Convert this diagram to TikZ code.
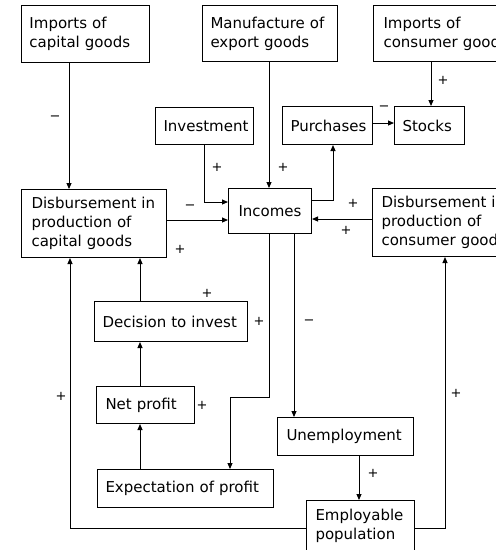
\documentclass[tikz,border=0pt]{standalone}
\usepackage{fontspec}
\setmainfont{DejaVu Sans}
\usetikzlibrary{arrows.meta}
\begin{document}
\begin{tikzpicture}[x=1pt,y=-1pt,
  box/.style={draw, line width=1pt, inner xsep=8pt, inner ysep=0pt, align=left,
    anchor=north west, font=\fontsize{15}{19}\selectfont},
  arr/.style={line width=1pt, -{Triangle[length=6pt,width=5pt]}},
  sg/.style={font=\fontsize{13}{13}\selectfont, inner sep=0pt}]
\useasboundingbox (0,0) rectangle (496,550);
\clip (0,0) rectangle (496,550);
% boxes
\node[box, minimum width=128pt, minimum height=57pt, text width=112pt] (icg) at (21,5) {Imports~of\\capital~goods};
\node[box, minimum width=135pt, minimum height=56pt, text width=119pt] (meg) at (202,5) {Manufacture~of\\export~goods};
\node[box, minimum width=150pt, minimum height=56pt, text width=130pt, inner xsep=10pt] (icn) at (373,5) {Imports~of\\consumer~goods};
\node[box, minimum width=98pt, minimum height=37pt, text width=82pt] (inv) at (155,107) {Investment};
\node[box, minimum width=90pt, minimum height=38pt, text width=74pt] (pur) at (282,106) {Purchases};
\node[box, minimum width=70pt, minimum height=38pt, text width=54pt] (stk) at (394,106) {Stocks};
\node[box, minimum width=83pt, minimum height=45pt, text width=63pt, inner xsep=10pt] (inc) at (228,188) {Incomes};
\node[box, minimum width=145pt, minimum height=68pt, text width=125pt, inner xsep=10pt] (dcap) at (21,189) {Disbursement~in\\production~of\\capital~goods};
\node[box, minimum width=150pt, minimum height=68pt, text width=132pt, inner xsep=9pt] (dcon) at (372,188) {Disbursement~in\\production~of\\consumer~goods};
\node[box, minimum width=153pt, minimum height=40pt, text width=137pt] (dec) at (94,301) {Decision~to~invest};
\node[box, minimum width=96pt, minimum height=37pt, text width=80pt, inner xsep=9pt] (np) at (96,386) {Net~profit};
\node[box, minimum width=176pt, minimum height=38pt, text width=160pt] (exp) at (97,469) {Expectation~of~profit};
\node[box, minimum width=136pt, minimum height=38pt, text width=118pt, inner xsep=9pt] (une) at (277,417) {Unemployment};
\node[box, minimum width=108pt, minimum height=50pt, text width=90pt, inner xsep=9pt] (emp) at (306,500) {Employable\\population};
% helper coordinates
\coordinate (x69) at (69,0);
\coordinate (x70) at (70,0);
\coordinate (x140) at (140,0);
\coordinate (x269) at (269,0);
\coordinate (x294) at (294,0);
\coordinate (x230) at (230,0);
\coordinate (x333) at (333,0);
\coordinate (x359) at (359,0);
\coordinate (x431) at (431,0);
\coordinate (x445) at (445,0);
\coordinate (y123) at (0,123);
\coordinate (y200) at (0,200);
\coordinate (y202) at (0,202);
\coordinate (y220) at (0,220);
\coordinate (y219) at (0,219);
\coordinate (y528) at (0,528);
\coordinate (b1) at (269,397);
\coordinate (b2) at (230,397);
% connectors
\draw[arr] (icg.south -| x69) -- (dcap.north -| x69);
\draw[arr] (meg.south -| x269) -- (inc.north -| x269);
\draw[arr] (icn.south -| x431) -- (stk.north -| x431);
\draw[arr] (pur.east |- y123) -- (stk.west |- y123);
\draw[arr] (inc.east |- y200) -| (pur.south -| x333);
\draw[arr] (inv.south) |- (inc.west |- y202);
\draw[arr] (dcap.east |- y220) -- (inc.west |- y220);
\draw[arr] (dcon.west |- y219) -- (inc.east |- y219);
\draw[arr] (inc.south -| x294) -- (une.north -| x294);
\draw[arr] (inc.south -| x269) -- (b1) -- (b2) -- (exp.north -| x230);
\draw[arr] (exp.north -| x140) -- (np.south -| x140);
\draw[arr] (np.north -| x140) -- (dec.south -| x140);
\draw[arr] (dec.north -| x140) -- (dcap.south -| x140);
\draw[arr] (une.south -| x359) -- (emp.north -| x359);
\draw[arr] (emp.east |- y528) -| (dcon.south -| x445);
\draw[arr] (emp.west |- y528) -| (dcap.south -| x70);
% signs
\node[sg] (s1) at (55,118) {−};
\node[sg] (s2) at (283,167) {+};
\node[sg] (s3) at (217,167) {+};
\node[sg] (s4) at (443,80) {+};
\node[sg] (s5) at (384,108) {−};
\node[sg] (s6) at (190,207) {−};
\node[sg] (s7) at (180,249) {+};
\node[sg] (s8) at (353,203) {+};
\node[sg] (s9) at (346,230) {+};
\node[sg] (s10) at (207,293) {+};
\node[sg] (s11) at (259,321) {+};
\node[sg] (s12) at (309,322) {−};
\node[sg] (s13) at (202,405) {+};
\node[sg] (s14) at (61,396) {+};
\node[sg] (s15) at (456,393) {+};
\node[sg] (s16) at (373,473) {+};
\end{tikzpicture}
\end{document}
